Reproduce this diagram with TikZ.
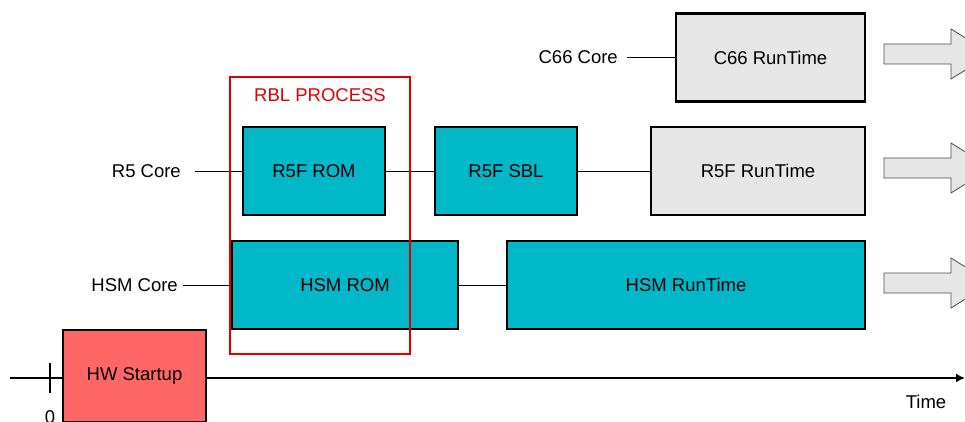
\documentclass[tikz,border=0pt]{standalone}
\usepackage{fontspec}
\setmainfont{Liberation Sans}
\usetikzlibrary{arrows.meta}
\usetikzlibrary{positioning}
\definecolor{romteal}{RGB}{0,184,200}
\definecolor{rungray}{RGB}{230,230,230}
\definecolor{hwred}{RGB}{255,102,102}
\definecolor{rblred}{RGB}{224,0,0}
\tikzset{
  stage/.style={draw,line width=2.2pt,minimum height=88pt,inner sep=0pt,font=\fontsize{18.5}{22}\selectfont},
  rom/.style={stage,fill=romteal},
  runtime/.style={stage,fill=rungray},
  corelabel/.style={anchor=east,inner sep=0pt,font=\fontsize{18.5}{22}\selectfont},
  link/.style={line width=0.8pt},
  goon/.style={draw=black!70,fill=rungray,line width=0.8pt}
}
\begin{document}
\begin{tikzpicture}[line cap=butt,line join=miter,x=1pt,y=-1pt]
\useasboundingbox (0,0) rectangle (965,422);
\clip (0,0) rectangle (965,422);
% time axis
\coordinate (t0) at (10,378);
\coordinate (t1) at (965,378);
\draw[line width=1.6pt,-{Latex[length=9pt,width=9pt]}] (t0) -- (t1);
\draw[line width=1.2pt] (50,363) -- (50,393);
\node[font=\fontsize{18.5}{22}\selectfont] (zero) at (50,417) {0};
\node[font=\fontsize{18.5}{22}\selectfont] (time) at (926,402) {Time};
\node[stage,fill=hwred,minimum width=143pt,minimum height=92pt] (hw) at (134.5,376) {HW Startup};
% C66 row
\node[runtime,minimum width=189pt] (c66rt) at (770.5,57.5) {C66 RunTime};
\node[corelabel] (c66) at (618,57.5) {C66 Core};
\draw[link] (c66.east)+(9,0) -- (c66rt.west);
% R5 row
\node[rom,minimum width=142pt] (r5rom) at (314,171) {R5F ROM};
\node[rom,minimum width=142pt] (r5sbl) at (506,171) {R5F SBL};
\node[runtime,minimum width=214pt] (r5rt) at (758,171) {R5F RunTime};
\node[corelabel] (r5) at (181,171) {R5 Core};
\draw[link] (r5.east)+(14,0) -- (r5rom.west);
\draw[link] (r5rom) -- (r5sbl);
\draw[link] (r5sbl) -- (r5rt);
% HSM row
\node[rom,minimum width=226pt] (hsmrom) at (345,285) {HSM ROM};
\node[rom,minimum width=358pt] (hsmrt) at (686,285) {HSM RunTime};
\node[corelabel] (hsm) at (178,285) {HSM Core};
\draw[link] (hsm.east)+(5,0) -- (hsmrom.west);
\draw[link] (hsmrom) -- (hsmrt);
% continues
\foreach \y in {54,168,283}
  \draw[goon] (884,\y-10) -- (951,\y-10) -- (951,\y-25) -- (991,\y)
    -- (951,\y+25) -- (951,\y+10) -- (884,\y+10) -- cycle;
% RBL process
\draw[rblred,line width=2pt] (230,77) rectangle (410,354);
\node[text=rblred,font=\fontsize{18.5}{22}\selectfont] (rbl) at (320,95) {RBL PROCESS};
\end{tikzpicture}
\end{document}
